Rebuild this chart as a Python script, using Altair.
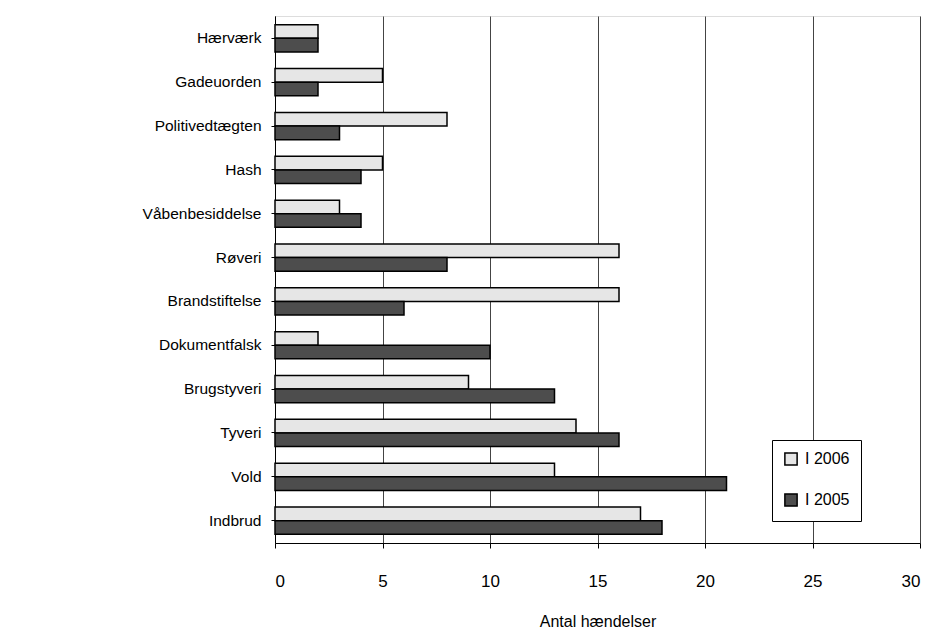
import altair as alt
import pandas as pd

categories = ["Hærværk", "Gadeuorden", "Politivedtægten", "Hash", "Våbenbesiddelse",
              "Røveri", "Brandstiftelse", "Dokumentfalsk", "Brugstyveri", "Tyveri",
              "Vold", "Indbrud"]
v2006 = [2, 5, 8, 5, 3, 16, 16, 2, 9, 14, 13, 17]
v2005 = [2, 2, 3, 4, 4, 8, 6, 10, 13, 16, 21, 18]
series = ["I 2006", "I 2005"]

rows = []
for c, a, b in zip(categories, v2006, v2005):
    rows.append({"kategori": c, "serie": series[0], "antal": a})
    rows.append({"kategori": c, "serie": series[1], "antal": b})
df = pd.DataFrame(rows)

font = "Liberation Sans"
fs = 15

chart = alt.Chart(df).mark_bar(stroke="black", strokeWidth=1.5).encode(
    y=alt.Y("kategori:N", sort=categories, title=None,
            scale=alt.Scale(paddingInner=0.38, paddingOuter=0.2),
            axis=alt.Axis(labelFont=font, labelFontSize=fs + 0.5, labelColor="black",
                          labelPadding=10, tickSize=4, tickColor="black",
                          domainColor="black", grid=False)),
    yOffset=alt.YOffset("serie:N", sort=series),
    x=alt.X("antal:Q", title="Antal hændelser",
            scale=alt.Scale(domain=[0, 30], nice=False),
            axis=alt.Axis(values=[0, 5, 10, 15, 20, 25, 30], labelFont=font,
                          labelFontSize=fs + 2, labelColor="black", labelPadding=25,
                          tickSize=5, tickColor="black", domainColor="black",
                          gridColor="#444", gridWidth=1, titleFont=font,
                          titleFontSize=fs + 1, titleFontWeight="normal",
                          titleColor="black", titlePadding=24)),
    fill=alt.Fill("serie:N", sort=series,
                  scale=alt.Scale(domain=series, range=["#e6e6e6", "#4d4d4d"]),
                  legend=alt.Legend(title=None, orient="none", legendX=497, legendY=424,
                                    labelFont=font, labelFontSize=fs + 1, labelColor="black",
                                    symbolType="square", symbolSize=150,
                                    symbolStrokeColor="black", symbolStrokeWidth=1.5,
                                    rowPadding=21, padding=11, labelOffset=6,
                                    strokeColor="black", fillColor="white")),
).properties(
    width=645, height=527,
    autosize=alt.AutoSizeParams(type="none"),
    padding={"left": 267, "top": 8, "right": 6, "bottom": 86},
).configure_view(stroke="black", strokeWidth=1.5).configure(background="white")

chart.save("out.html", embed_options={"renderer": "svg", "actions": False})
